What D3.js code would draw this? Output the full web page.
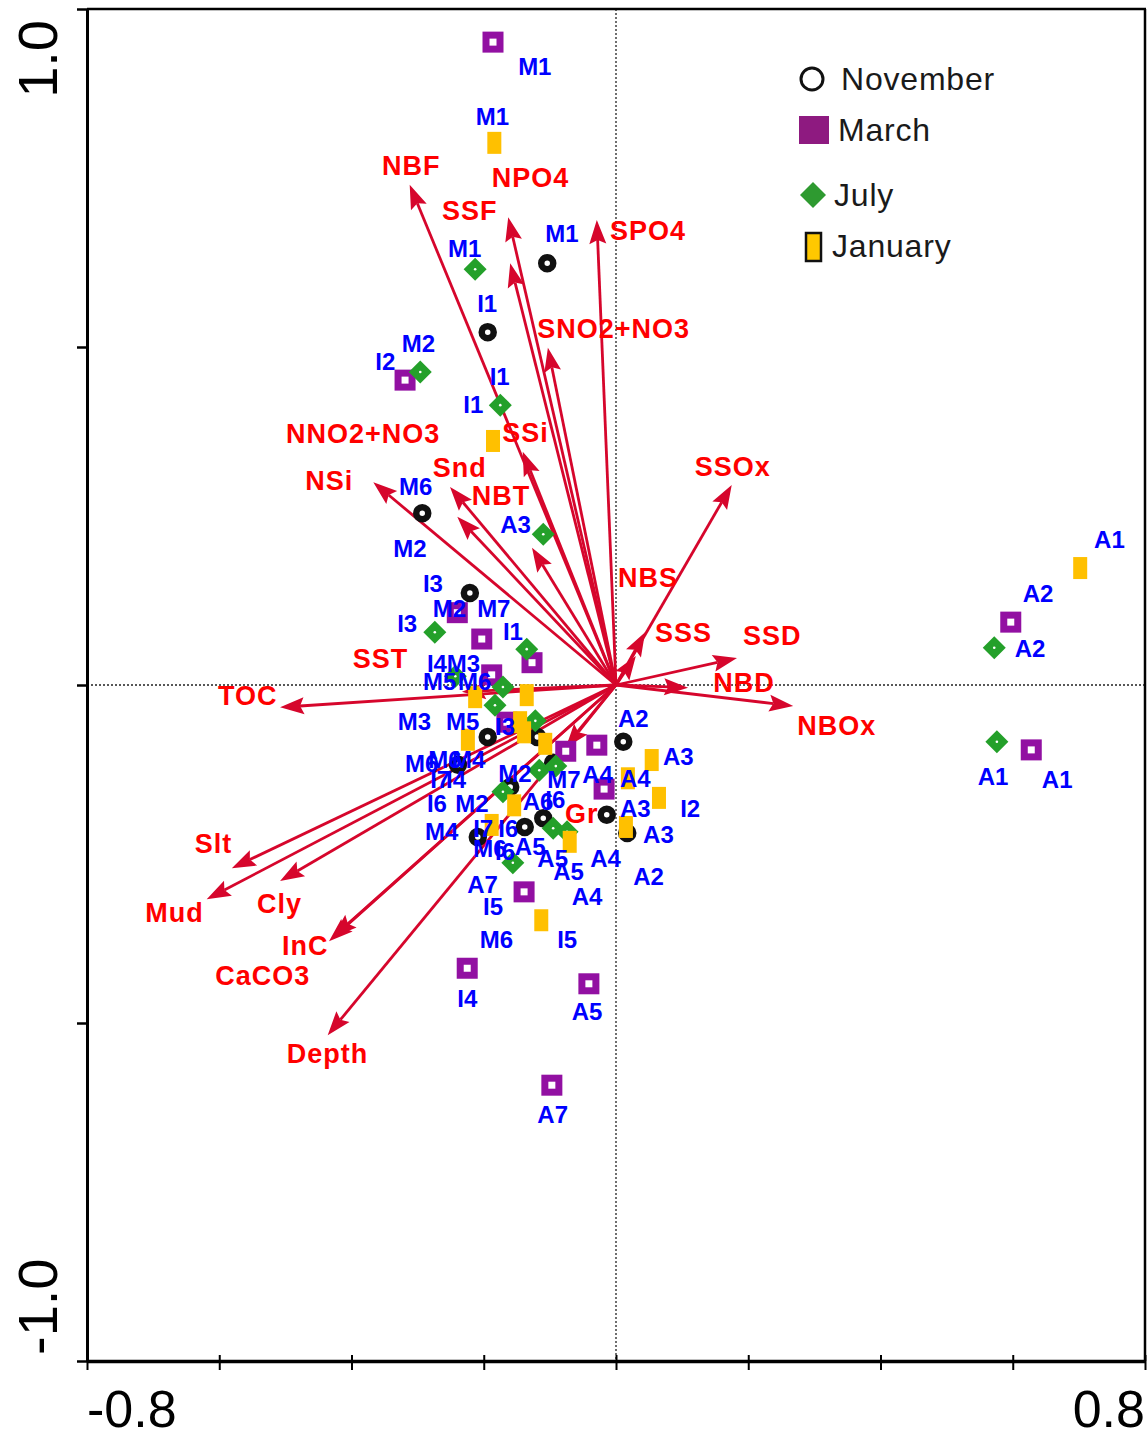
<!DOCTYPE html>
<html><head><meta charset="utf-8">
<script src="https://cdn.jsdelivr.net/npm/d3@7"></script>
<style>body{margin:0;background:#fff}svg{display:block}</style>
</head><body>
<svg id="c" width="1148" height="1438"></svg>
<script>
// ---------- DATA ----------
const months = ["November", "March", "July", "January"];
const xTicks = [-0.8, -0.6, -0.4, -0.2, 0, 0.2, 0.4, 0.6, 0.8];
const yTicks = [-1.0, -0.5, 0, 0.5, 1.0];
const xTickLabels = [-0.8, 0.8];
const yTickLabels = [1.0, -1.0];

const novPoints = [[-0.104,0.624],[-0.194,0.522],[-0.293,0.254],[-0.221,0.136],[0.011,-0.084],[-0.194,-0.077],[-0.119,-0.077],[-0.239,-0.118],[-0.095,-0.115],[-0.160,-0.151],[-0.014,-0.192],[0.017,-0.219],[-0.110,-0.197],[-0.138,-0.210],[-0.209,-0.225]];
const marPoints = [[-0.186,0.951],[-0.319,0.451],[-0.240,0.107],[-0.203,0.068],[-0.127,0.033],[-0.188,0.015],[-0.165,-0.055],[-0.076,-0.098],[-0.029,-0.089],[-0.018,-0.154],[0.597,0.093],[0.628,-0.096],[-0.139,-0.306],[-0.225,-0.419],[-0.041,-0.442],[-0.097,-0.592]];
const julPoints = [[-0.213,0.615],[-0.296,0.463],[-0.175,0.414],[-0.110,0.223],[-0.274,0.078],[-0.135,0.053],[-0.243,0.013],[-0.171,-0.003],[-0.183,-0.030],[-0.122,-0.053],[-0.116,-0.126],[-0.091,-0.120],[-0.171,-0.158],[-0.095,-0.212],[-0.074,-0.217],[-0.156,-0.263],[0.572,0.055],[0.576,-0.084]];
const janPoints = [[-0.184,0.802],[-0.186,0.361],[-0.213,-0.018],[-0.135,-0.015],[-0.145,-0.055],[-0.139,-0.070],[-0.224,-0.081],[-0.107,-0.087],[0.054,-0.111],[0.018,-0.138],[0.065,-0.167],[-0.154,-0.178],[0.015,-0.210],[-0.188,-0.207],[-0.070,-0.232],[-0.113,-0.348],[0.702,0.173]];

const envNames = ["NBF","NPO4","SSF","SPO4","SNO2+NO3","SSi","NNO2+NO3","Snd","NSi","NBT","SSOx","NBS","SSS","SSD","NBD","NBOx","TOC","SST","Slt","Mud","Cly","InC","CaCO3","Depth","Gr"];
const envX = [-0.312,-0.163,-0.160,-0.029,-0.103,-0.141,-0.127,-0.251,-0.367,-0.240,0.175,0.030,0.044,0.183,0.109,0.268,-0.508,-0.233,-0.581,-0.619,-0.508,-0.434,-0.428,-0.436,-0.076];
const envY = [0.740,0.692,0.624,0.688,0.499,0.345,0.203,0.293,0.300,0.249,0.296,0.043,0.078,0.040,-0.004,-0.031,-0.033,-0.010,-0.271,-0.317,-0.290,-0.379,-0.373,-0.518,-0.093];
const envLabelX = [-0.354,-0.188,-0.263,-0.009,-0.119,-0.172,-0.499,-0.277,-0.470,-0.218,0.119,0.003,0.059,0.192,0.147,0.274,-0.602,-0.398,-0.637,-0.712,-0.543,-0.505,-0.606,-0.498,-0.077];
const envLabelY = [0.754,0.737,0.688,0.658,0.513,0.359,0.358,0.308,0.288,0.266,0.309,0.145,0.064,0.059,-0.010,-0.074,-0.030,0.025,-0.248,-0.351,-0.337,-0.399,-0.444,-0.559,-0.204];

const sampleLabels = ["M1","M1","M1","M1","I1","M2","I2","I1","I1","M6","A3","M2","I3","M2","M7","I3","I1","I4","M3","M5","M6","M3","M5","I3","A2","A3","M6","M6","M4","M2","I7","I4","M7","A4","A4","I6","M2","A6","I6","A3","I2","M4","I7","I6","A3","M6","I6","A5","A5","A5","A4","A2","A7","A4","I5","M6","I5","I4","A5","A7","A1","A2","A2","A1","A1"];
const sampleLabelX = [-0.148,-0.212,-0.254,-0.107,-0.210,-0.324,-0.364,-0.191,-0.231,-0.328,-0.175,-0.337,-0.292,-0.277,-0.210,-0.331,-0.171,-0.286,-0.256,-0.292,-0.239,-0.330,-0.257,-0.183,0.003,0.071,-0.319,-0.284,-0.248,-0.178,-0.281,-0.257,-0.104,-0.051,0.006,-0.286,-0.243,-0.141,-0.107,0.006,0.097,-0.289,-0.216,-0.178,0.041,-0.216,-0.183,-0.153,-0.119,-0.095,-0.039,0.026,-0.225,-0.067,-0.201,-0.206,-0.089,-0.240,-0.067,-0.119,0.723,0.615,0.603,0.547,0.644];
const sampleLabelY = [0.902,0.828,0.633,0.655,0.552,0.493,0.466,0.444,0.402,0.281,0.225,0.189,0.138,0.101,0.101,0.078,0.067,0.019,0.019,-0.007,-0.007,-0.067,-0.067,-0.074,-0.062,-0.118,-0.129,-0.123,-0.123,-0.143,-0.152,-0.152,-0.152,-0.145,-0.151,-0.188,-0.188,-0.185,-0.182,-0.195,-0.195,-0.229,-0.225,-0.225,-0.234,-0.254,-0.259,-0.251,-0.269,-0.288,-0.269,-0.296,-0.308,-0.325,-0.340,-0.389,-0.389,-0.476,-0.496,-0.648,0.203,0.123,0.041,-0.148,-0.152];

// ---------- CHART ----------
const svg = d3.select("#c");
const FONT = "'Liberation Sans', Arial, Helvetica, sans-serif";
const x = d3.scaleLinear().domain([-0.8, 0.8]).range([87, 1145]);
const y = d3.scaleLinear().domain([-1, 1]).range([1361, 9]);

// dotted zero lines
svg.append("line").attr("x1", x(-0.8)).attr("x2", x(0.8)).attr("y1", y(0)).attr("y2", y(0))
  .attr("stroke", "#222").attr("stroke-width", 1.3).attr("stroke-dasharray", "2,2");
svg.append("line").attr("x1", x(0)).attr("x2", x(0)).attr("y1", y(1)).attr("y2", y(-1))
  .attr("stroke", "#222").attr("stroke-width", 1.3).attr("stroke-dasharray", "2,2");

// arrows
const ARROW = "#d6062c";
const ox = x(0), oy = y(0);
const gA = svg.append("g");
envNames.forEach((n, i) => {
  const tx = x(envX[i]), ty = y(envY[i]);
  const dx = tx - ox, dy = ty - oy, len = Math.hypot(dx, dy);
  const ux = dx / len, uy = dy / len, px = -uy, py = ux;
  const L = 24, W = 8.5, N = 4;
  const bx = tx - ux * L, by = ty - uy * L;
  const nx = tx - ux * (L - N), ny = ty - uy * (L - N);
  gA.append("line").attr("x1", ox).attr("y1", oy).attr("x2", nx).attr("y2", ny)
    .attr("stroke", ARROW).attr("stroke-width", 2.8);
  gA.append("path")
    .attr("d", `M${tx},${ty}L${bx + px * W},${by + py * W}L${nx},${ny}L${bx - px * W},${by - py * W}Z`)
    .attr("fill", ARROW);
});

// points
const gP = svg.append("g");
gP.selectAll(".nov").data(novPoints).join("circle")
  .attr("cx", d => x(d[0])).attr("cy", d => y(d[1])).attr("r", 6)
  .attr("fill", "#fff").attr("stroke", "#111").attr("stroke-width", 6.5);
gP.selectAll(".mar").data(marPoints).join("rect")
  .attr("x", d => x(d[0]) - 7).attr("y", d => y(d[1]) - 7).attr("width", 14).attr("height", 14)
  .attr("fill", "#fff").attr("stroke", "#9210a2").attr("stroke-width", 7);
gP.selectAll(".jul").data(julPoints).join("path")
  .attr("d", d => { const cx = x(d[0]), cy = y(d[1]), s = 11.5; return `M${cx},${cy - s}L${cx + s},${cy}L${cx},${cy + s}L${cx - s},${cy}Z`; })
  .attr("fill", "#24a02a");
gP.selectAll(".julc").data(julPoints).join("circle")
  .attr("cx", d => x(d[0])).attr("cy", d => y(d[1])).attr("r", 1.3).attr("fill", "#fff");
gP.selectAll(".jan").data(janPoints).join("rect")
  .attr("x", d => x(d[0]) - 7).attr("y", d => y(d[1]) - 11).attr("width", 14).attr("height", 22)
  .attr("fill", "#ffc000");

// env labels
svg.append("g").selectAll("text").data(envNames).join("text")
  .attr("x", (d, i) => x(envLabelX[i])).attr("y", (d, i) => y(envLabelY[i]))
  .attr("font-family", FONT).attr("font-size", 27).attr("font-weight", "bold")
  .attr("letter-spacing", 1).attr("fill", "#ff0000").text(d => d);

// sample labels
svg.append("g").selectAll("text").data(sampleLabels).join("text")
  .attr("x", (d, i) => x(sampleLabelX[i])).attr("y", (d, i) => y(sampleLabelY[i]))
  .attr("font-family", FONT).attr("font-size", 24).attr("font-weight", "bold")
  .attr("fill", "#0000ff").text(d => d);

// axes
const gx = svg.append("g").attr("transform", `translate(0,${y(-1)})`)
  .call(d3.axisBottom(x).tickValues(xTicks).tickSize(9).tickSizeOuter(0).tickFormat(""));
gx.select(".domain").attr("stroke", "#000").attr("stroke-width", 3.5);
gx.selectAll(".tick line").attr("stroke", "#000").attr("stroke-width", 2).attr("y1", -6);
const gy = svg.append("g").attr("transform", `translate(${x(-0.8)},0)`)
  .call(d3.axisLeft(y).tickValues(yTicks).tickSize(10).tickSizeOuter(0).tickFormat(""));
gy.select(".domain").attr("stroke", "#000").attr("stroke-width", 3);
gy.selectAll(".tick line").attr("stroke", "#000").attr("stroke-width", 2.5);
// top and right frame
svg.append("line").attr("x1", x(-0.8)).attr("x2", x(0.8) + 1).attr("y1", y(1)).attr("y2", y(1))
  .attr("stroke", "#000").attr("stroke-width", 2.5);
svg.append("line").attr("x1", x(0.8)).attr("x2", x(0.8)).attr("y1", y(1)).attr("y2", y(-1))
  .attr("stroke", "#000").attr("stroke-width", 2.5);

// tick labels
svg.selectAll(".xl").data(xTickLabels).join("text")
  .attr("x", d => x(d)).attr("y", 1427)
  .attr("text-anchor", d => d < 0 ? "start" : "end")
  .attr("font-family", FONT).attr("font-size", 52).attr("fill", "#000")
  .text(d => d.toFixed(1));
svg.selectAll(".yl").data(yTickLabels).join("text")
  .attr("transform", d => `translate(57,${y(d) + (d > 0 ? 11 : -6)}) rotate(-90)`)
  .attr("text-anchor", d => d > 0 ? "end" : "start")
  .attr("font-family", FONT).attr("font-size", 56).attr("fill", "#000")
  .text(d => d.toFixed(1));

// legend
const lg = svg.append("g");
lg.append("circle").attr("cx", 812).attr("cy", 79).attr("r", 11)
  .attr("fill", "#fff").attr("stroke", "#111").attr("stroke-width", 3);
lg.append("rect").attr("x", 799).attr("y", 116).attr("width", 30).attr("height", 28).attr("fill", "#8e1a80");
lg.append("path").attr("d", "M813,182L826,195L813,208L800,195Z").attr("fill", "#2e9a30");
lg.append("rect").attr("x", 806).attr("y", 233).attr("width", 15).attr("height", 28)
  .attr("fill", "#ffc800").attr("stroke", "#111").attr("stroke-width", 2.5);
const legX = [841, 838, 834, 832], legY = [90, 141, 206, 257];
lg.selectAll("text").data(months).join("text")
  .attr("x", (d, i) => legX[i]).attr("y", (d, i) => legY[i])
  .attr("font-family", FONT).attr("font-size", 32).attr("letter-spacing", 0.8)
  .attr("fill", "#1a1a1a").text(d => d);
</script>
</body></html>
